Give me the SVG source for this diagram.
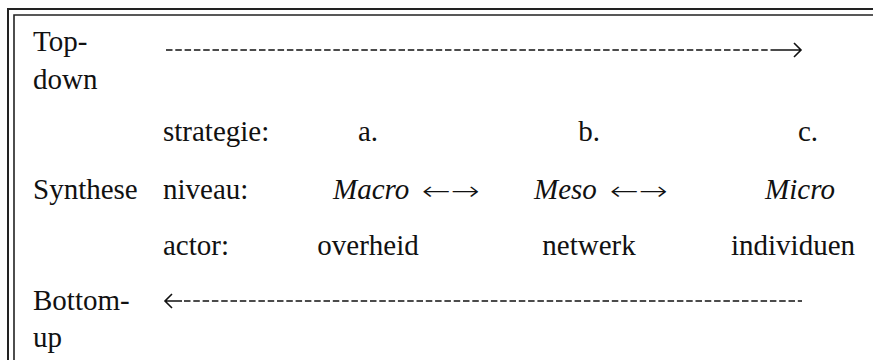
<svg xmlns="http://www.w3.org/2000/svg" width="873" height="360" viewBox="0 0 873 360">
<style>
text{font-family:"Liberation Serif","Times New Roman",serif;font-size:29px;fill:#111}
.it{font-style:italic}
.m{text-anchor:middle}
.arr{font-family:"DejaVu Sans","DejaVu Serif",sans-serif;font-size:26px;font-weight:200}
.dash{stroke:#111;stroke-width:1.6;stroke-dasharray:6.5 2.8;fill:none}
.solid{stroke:#111;stroke-width:1.6;fill:none}
.frame{fill:none;stroke:#222}
</style>
<rect width="873" height="360" fill="#fff"/>
<g id="frame">
<path class="frame" stroke-width="2" d="M8,370 V9 H880"/>
<path class="frame" stroke-width="1.6" d="M14,370 V15 H880"/>
</g>
<g id="row-labels">
<text x="33" y="51">Top-</text>
<text x="33" y="89">down</text>
<text x="33" y="199">Synthese</text>
<text x="33" y="310">Bottom-</text>
<text x="33" y="347">up</text>
</g>
<g id="col-labels">
<text x="163" y="141">strategie:</text>
<text x="163" y="199">niveau:</text>
<text x="163" y="255">actor:</text>
</g>
<g id="node-a">
<text class="m" x="368" y="141">a.</text>
<text class="it" x="333" y="199">Macro</text>
<text class="arr" x="422" y="200" textLength="58" lengthAdjust="spacingAndGlyphs">←→</text>
<text class="m" x="368" y="255">overheid</text>
</g>
<g id="node-b">
<text class="m" x="589" y="141">b.</text>
<text class="it" x="534" y="199">Meso</text>
<text class="arr" x="610" y="200" textLength="58" lengthAdjust="spacingAndGlyphs">←→</text>
<text class="m" x="589" y="255">netwerk</text>
</g>
<g id="node-c">
<text class="m" x="808" y="141">c.</text>
<text class="m it" x="800" y="199">Micro</text>
<text class="m" x="793" y="255">individuen</text>
</g>
<g id="connectors">
<path class="dash" d="M166,50 H775"/>
<path class="solid" d="M775,50 H801 M794,43 L801,50 L794,57"/>
<path class="solid" d="M165,301 H182 M172,294 L165,301 L172,308"/>
<path class="dash" d="M184,301 H802"/>
</g>
</svg>
